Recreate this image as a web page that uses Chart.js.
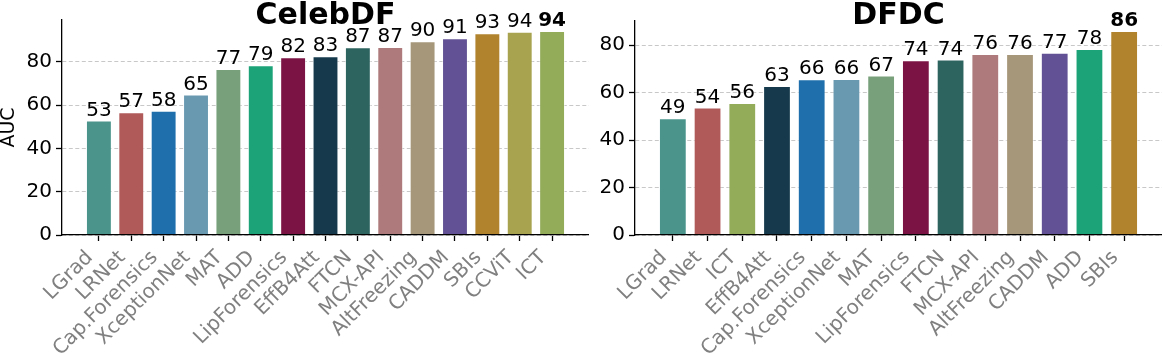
<!DOCTYPE html>
<html>
<head>
<meta charset="utf-8">
<script src="https://cdn.jsdelivr.net/npm/chart.js@4/dist/chart.umd.min.js"></script>
<style>
  body { margin: 0; background: #fff; }
  #left { position: absolute; left: 0; top: 0; }
  #right { position: absolute; left: 589px; top: 0; }
</style>
</head>
<body>
<canvas id="left" width="589" height="357"></canvas>
<canvas id="right" width="573" height="357"></canvas>
<script>
// CelebDF results (AUC)
const celebLabels = ["LGrad", "LRNet", "Cap.Forensics", "XceptionNet", "MAT", "ADD", "LipForensics",
    "EffB4Att", "FTCN", "MCX-API", "AltFreezing", "CADDM", "SBIs", "CCViT", "ICT"];
const celebValues = [52.9, 56.8, 57.5, 64.9, 76.8, 78.5, 82.2, 82.6, 86.8, 86.9, 89.6, 91.0, 93.3, 94.0, 94.3];

// DFDC results (AUC)
const dfdcLabels = ["LGrad", "LRNet", "ICT", "EffB4Att", "Cap.Forensics", "XceptionNet", "MAT",
    "LipForensics", "FTCN", "MCX-API", "AltFreezing", "CADDM", "ADD", "SBIs"];
const dfdcValues = [49.2, 53.7, 55.6, 62.8, 65.6, 65.7, 67.2, 73.6, 73.9, 76.3, 76.3, 76.8, 78.4, 86.0];

const yTicks = [0, 20, 40, 60, 80];

// one colour per method
const methodColors = {
    "LGrad": "#4a948c",
    "LRNet": "#b05a5a",
    "Cap.Forensics": "#1f6fad",
    "XceptionNet": "#6899b0",
    "MAT": "#78a07a",
    "ADD": "#1ca378",
    "LipForensics": "#7b1444",
    "EffB4Att": "#163a4c",
    "FTCN": "#2e6460",
    "MCX-API": "#ae7a7b",
    "AltFreezing": "#a6977a",
    "CADDM": "#625295",
    "SBIs": "#b0832c",
    "CCViT": "#a8a34f",
    "ICT": "#92ac5a"
};

Chart.defaults.font.family = "'DejaVu Sans', sans-serif";
Chart.defaults.color = "#000";

// bold title drawn over the top of the plot area
const titlePlugin = {
    id: "plotTitle",
    afterDraw(chart, args, opts) {
        const { ctx, chartArea } = chart;
        ctx.save();
        ctx.font = "bold 30px 'DejaVu Sans'";
        ctx.fillStyle = "#000";
        ctx.textAlign = "center";
        ctx.textBaseline = "alphabetic";
        ctx.fillText(opts.text, (chartArea.left + chartArea.right) / 2, 24);
        ctx.restore();
    }
};

// value written above each bar, the best one in bold
const valuePlugin = {
    id: "barValues",
    afterDatasetsDraw(chart) {
        const { ctx } = chart;
        const meta = chart.getDatasetMeta(0);
        const values = chart.data.datasets[0].data.map(d => d.y);
        const best = values.indexOf(Math.max(...values));
        ctx.save();
        ctx.fillStyle = "#000";
        ctx.textAlign = "center";
        ctx.textBaseline = "alphabetic";
        meta.data.forEach((bar, i) => {
            ctx.font = (i === best ? "bold " : "") + "20px 'DejaVu Sans'";
            ctx.fillText(String(Math.round(values[i])), bar.x, bar.y - 5);
        });
        ctx.restore();
    }
};

function makeChart(canvasId, title, labels, values, yMax, yAxisWidth, topPad, showYTitle) {
    const n = labels.length;
    const margin = (n - 1 + 0.8) * 0.05 + 0.4;

    return new Chart(document.getElementById(canvasId), {
        type: "bar",
        data: {
            datasets: [{
                data: values.map((v, i) => ({ x: i, y: v })),
                backgroundColor: labels.map(l => methodColors[l]),
                borderColor: "rgba(255,255,255,0.55)",
                borderWidth: 1,
                barPercentage: 0.8,
                categoryPercentage: 1.0
            }]
        },
        options: {
            responsive: false,
            devicePixelRatio: 1,
            animation: false,
            layout: { padding: { top: topPad, right: 0, left: 0, bottom: 0 } },
            plugins: {
                legend: { display: false },
                tooltip: { enabled: false },
                plotTitle: { text: title }
            },
            scales: {
                x: {
                    type: "linear",
                    offset: false,
                    min: -margin,
                    max: n - 1 + margin,
                    afterBuildTicks(axis) {
                        axis.ticks = axis.ticks.filter(t => Number.isInteger(t.value) && t.value >= 0 && t.value < n);
                    },
                    afterFit(scale) { scale.height = 122; },
                    ticks: {
                        stepSize: 1,
                        autoSkip: false,
                        includeBounds: false,
                        minRotation: 45,
                        maxRotation: 45,
                        padding: -4,
                        color: "#808080",
                        font: { size: 20 },
                        // trailing spaces pull the rotated label a little down-left of the tick
                        callback: v => labels[v] + "  "
                    },
                    grid: {
                        offset: false,
                        drawOnChartArea: false,
                        drawTicks: true,
                        tickLength: 6,
                        tickColor: "#000",
                        tickWidth: 1.3
                    },
                    border: { color: "#000", width: 1.3, z: 1 }
                },
                y: {
                    min: 0,
                    max: yMax,
                    afterBuildTicks(axis) {
                        axis.ticks = yTicks.map(v => ({ value: v }));
                    },
                    afterFit(scale) { scale.width = yAxisWidth; },
                    ticks: {
                        stepSize: 20,
                        includeBounds: false,
                        padding: 4,
                        color: "#000",
                        font: { size: 20 }
                    },
                    grid: {
                        color: "#c8c8c8",
                        lineWidth: 1,
                        drawTicks: true,
                        tickLength: 6,
                        tickColor: "#000",
                        tickWidth: 1.3,
                        tickBorderDash: []
                    },
                    border: { color: "#000", width: 1.3, dash: [4, 2.5], z: 1 },
                    title: {
                        display: showYTitle,
                        text: "AUC",
                        color: "#000",
                        padding: { top: 0, bottom: 0 },
                        font: { size: 19, lineHeight: 1.0 }
                    }
                }
            }
        },
        plugins: [titlePlugin, valuePlugin]
    });
}

makeChart("left", "CelebDF", celebLabels, celebValues, 99.4, 62, 20, true);
makeChart("right", "DFDC", dfdcLabels, dfdcValues, 90.3, 46, 20.7, false);
</script>
</body>
</html>
